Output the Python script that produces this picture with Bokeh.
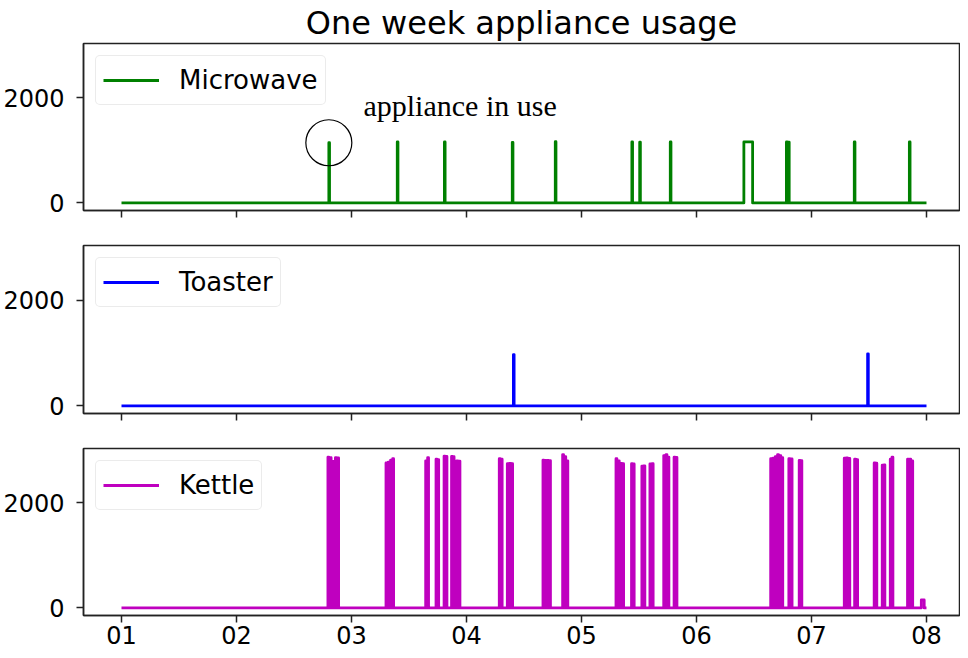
from bokeh.plotting import figure
from bokeh.models import FixedTicker, Label, Range1d, CustomLabelingPolicy
from bokeh.layouts import column
from bokeh.embed import file_html
from bokeh.resources import INLINE

# ---------------- data ----------------
title_text = "One week appliance usage"
tick_days = [0, 1, 2, 3, 4, 5, 6, 7]
tick_labels = ["01", "02", "03", "04", "05", "06", "07", "08"]
y_ticks = [0, 2000]

# Microwave events (day offset from the 1st, watts)
mw_on = [1.803, 2.398, 2.808, 3.398, 3.772, 4.438, 4.506, 4.772, 5.412, 5.782, 5.800, 6.372, 6.851]
mw_off = [1.809, 2.404, 2.814, 3.404, 3.778, 4.444, 4.512, 4.778, 5.488, 5.788, 5.806, 6.378, 6.857]
mw_power = [1145, 1160, 1160, 1150, 1165, 1160, 1155, 1160, 1160, 1160, 1155, 1160, 1160]

# Toaster events
toaster_on = [3.408, 6.488]
toaster_off = [3.414, 6.494]
toaster_power = [970, 985]

# Kettle events
kettle_on = [1.795, 1.815, 1.838, 1.860, 1.880,
             2.300, 2.320, 2.340, 2.358,
             2.645, 2.662, 2.735, 2.750, 2.805, 2.822, 2.870, 2.884, 2.915, 2.935,
             3.285, 3.302, 3.355, 3.375, 3.393,
             3.665, 3.685, 3.705, 3.722, 3.836, 3.855, 3.873,
             4.300, 4.320, 4.340, 4.358, 4.435, 4.450, 4.525, 4.543, 4.595, 4.615,
             4.715, 4.735, 4.752, 4.805, 4.822,
             5.645, 5.665, 5.685, 5.705, 5.725, 5.742, 5.803, 5.823, 5.893, 5.908,
             6.285, 6.305, 6.325, 6.375, 6.393, 6.545, 6.560, 6.615, 6.630,
             6.685, 6.700, 6.835, 6.855, 6.872, 6.955]
kettle_off = [1.803, 1.823, 1.846, 1.868, 1.888,
              2.308, 2.328, 2.348, 2.366,
              2.653, 2.670, 2.743, 2.758, 2.813, 2.830, 2.878, 2.892, 2.923, 2.943,
              3.293, 3.310, 3.363, 3.383, 3.401,
              3.673, 3.693, 3.713, 3.730, 3.844, 3.863, 3.881,
              4.308, 4.328, 4.348, 4.366, 4.443, 4.458, 4.533, 4.551, 4.603, 4.623,
              4.723, 4.743, 4.760, 4.813, 4.830,
              5.653, 5.673, 5.693, 5.713, 5.733, 5.750, 5.811, 5.831, 5.901, 5.916,
              6.293, 6.313, 6.333, 6.383, 6.401, 6.553, 6.568, 6.623, 6.638,
              6.693, 6.708, 6.843, 6.863, 6.880, 6.980]
kettle_power = [2870, 2860, 2790, 2860, 2855,
                2760, 2775, 2815, 2840,
                2800, 2860, 2830, 2825, 2890, 2885, 2885, 2880, 2800, 2795,
                2840, 2830, 2745, 2750, 2745,
                2815, 2810, 2810, 2805, 2920, 2880, 2800,
                2840, 2800, 2750, 2745, 2745, 2740, 2700, 2705, 2740, 2745,
                2900, 2920, 2870, 2870, 2865,
                2840, 2850, 2880, 2920, 2900, 2860, 2840, 2835, 2810, 2805,
                2850, 2855, 2845, 2830, 2825, 2760, 2755, 2720, 2725,
                2830, 2870, 2830, 2830, 2800, 150]

annotation_text = "appliance in use"


def steps(on, off, pw):
    xs = [tick_days[0]]
    ys = [0]
    for a, b, h in zip(on, off, pw):
        xs += [a, a, b, b]
        ys += [0, h, h, 0]
    xs.append(tick_days[-1])
    ys.append(0)
    return xs, ys


x_range = Range1d(-0.3304, 7.287)
TEXT = "DejaVu Sans"

HIDE_LABELS_JS = """
const n = indices.size;
for (let i = 0; i < n; i++) { try { indices.unset(i); } catch (e) {} }
return indices;
"""


def make_fig(frame_h, top, bottom, show_labels):
    p = figure(frame_width=876, frame_height=frame_h,
               x_range=x_range, y_range=Range1d(-145, 3035),
               output_backend="svg", toolbar_location=None,
               min_border_left=75, min_border_right=1,
               min_border_top=top, min_border_bottom=bottom,
               background_fill_color="white", border_fill_color="white")
    p.grid.visible = False
    p.outline_line_color = "#222222"
    p.outline_line_width = 1.5
    for ax in (p.xaxis[0], p.yaxis[0]):
        ax.axis_line_color = "#222222"
        ax.axis_line_width = 1.5
        ax.major_tick_line_color = "#222222"
        ax.major_tick_line_width = 1.5
        ax.major_tick_out = 7
        ax.major_tick_in = 0
        ax.minor_tick_line_color = None
        ax.major_label_text_font = TEXT
        ax.major_label_text_font_size = "24px"
        ax.major_label_text_color = "black"
    p.yaxis.ticker = FixedTicker(ticks=y_ticks)
    p.yaxis.major_label_standoff = 12
    p.xaxis.ticker = FixedTicker(ticks=tick_days)
    p.xaxis.major_label_overrides = {d: lab for d, lab in zip(tick_days, tick_labels)}
    if show_labels:
        p.xaxis.major_label_standoff = 3
    else:
        # shared x axis: tick marks only, labels filtered out (not drawn)
        p.xaxis.major_label_standoff = 0
        p.xaxis.major_label_text_font_size = "2px"
        p.xaxis.major_label_policy = CustomLabelingPolicy(code=HIDE_LABELS_JS)
    return p


def style_legend(p):
    lg = p.legend[0]
    lg.location = "top_left"
    lg.margin = 12
    lg.padding = 7
    lg.glyph_width = 56
    lg.glyph_height = 34
    lg.label_height = 34
    lg.label_standoff = 20
    lg.label_text_font = TEXT
    lg.label_text_font_size = "26px"
    lg.label_text_color = "black"
    lg.border_line_color = "#d8d8d8"
    lg.border_line_width = 1.5
    lg.background_fill_alpha = 0.85
    if "border_radius" in type(lg).properties():
        lg.border_radius = 5


p1 = make_fig(167, 34, 18, False)
p1.title.text = title_text
p1.title.align = "center"
p1.title.text_font = TEXT
p1.title.text_font_size = "32px"
p1.title.text_font_style = "normal"
p1.title.text_color = "black"
p1.title.standoff = 3
xs, ys = steps(mw_on, mw_off, mw_power)
p1.line(xs, ys, color="#008000", line_width=2.8, line_join="round", legend_label="Microwave")
style_legend(p1)
p1.scatter([mw_on[0]], [mw_power[0]], marker="circle", size=46,
           fill_color=None, line_color="black", line_width=1.2)
p1.add_layout(Label(x=2.104, y=1860, text=annotation_text,
                    text_font="Liberation Serif", text_font_size="30px",
                    text_color="black", text_baseline="alphabetic"))

p2 = make_fig(168, 17, 18, False)
xs, ys = steps(toaster_on, toaster_off, toaster_power)
p2.line(xs, ys, color="#0000ff", line_width=2.8, line_join="round", legend_label="Toaster")
style_legend(p2)

p3 = make_fig(167, 17, 40, True)
xs, ys = steps(kettle_on, kettle_off, kettle_power)
p3.line(xs, ys, color="#bf00bf", line_width=2.8, line_join="round", legend_label="Kettle")
style_legend(p3)

layout = column(p1, p2, p3, spacing=0)
open("out.html", "w").write(file_html(layout, INLINE))
